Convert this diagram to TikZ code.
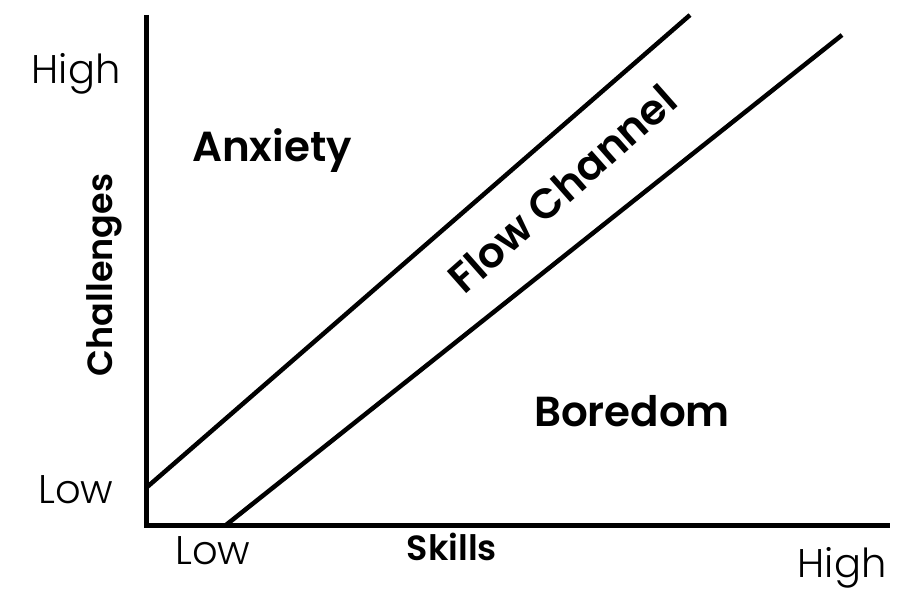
\documentclass[tikz,border=0pt]{standalone}
\usepackage{fontspec}
\setmainfont{Poppins}
\newfontfamily\lightfont{Poppins}[UprightFont=*-Light]
\newfontfamily\semifont{Poppins}[UprightFont=*-SemiBold]
\begin{document}
\begin{tikzpicture}[x=1pt,y=-1pt,
  axis/.style={line width=5pt},
  chan/.style={line width=4.5pt},
  tick/.style={font=\lightfont\fontsize{40}{44}\selectfont, inner sep=0pt},
  region/.style={font=\semifont\fontsize{42}{46}\selectfont, inner sep=0pt},
  axlabel/.style={font=\semifont\fontsize{35}{40}\selectfont, inner sep=0pt}]
\useasboundingbox (0,0) rectangle (905,591);
\coordinate (top) at (146,15);
\coordinate (origin) at (146,525);
\coordinate (right) at (890,525);
\coordinate (a1) at (146,488);
\coordinate (a2) at (690,15);
\coordinate (b1) at (226,525);
\coordinate (b2) at (842,35);
\draw[axis] (top) -- (origin) -- (right);
\draw[chan] (a1) -- (a2);
\draw[chan] (b1) -- (b2);
\node[tick] (yhigh) at (76,74) {High};
\node[tick] (ylow) at (76,490) {Low};
\node[tick] (xlow) at (213,551) {Low};
\node[tick] (xhigh) at (842,568) {High};
\node[axlabel] (skills) at (452,547) {Skills};
\node[axlabel, rotate=90] (chal) at (104,275) {Challenges};
\node[region] (anx) at (272,151) {Anxiety};
\node[region] (bor) at (632,411) {Boredom};
\node[region, rotate=41.5] (flow) at (562,189) {Flow Channel};
\end{tikzpicture}
\end{document}
